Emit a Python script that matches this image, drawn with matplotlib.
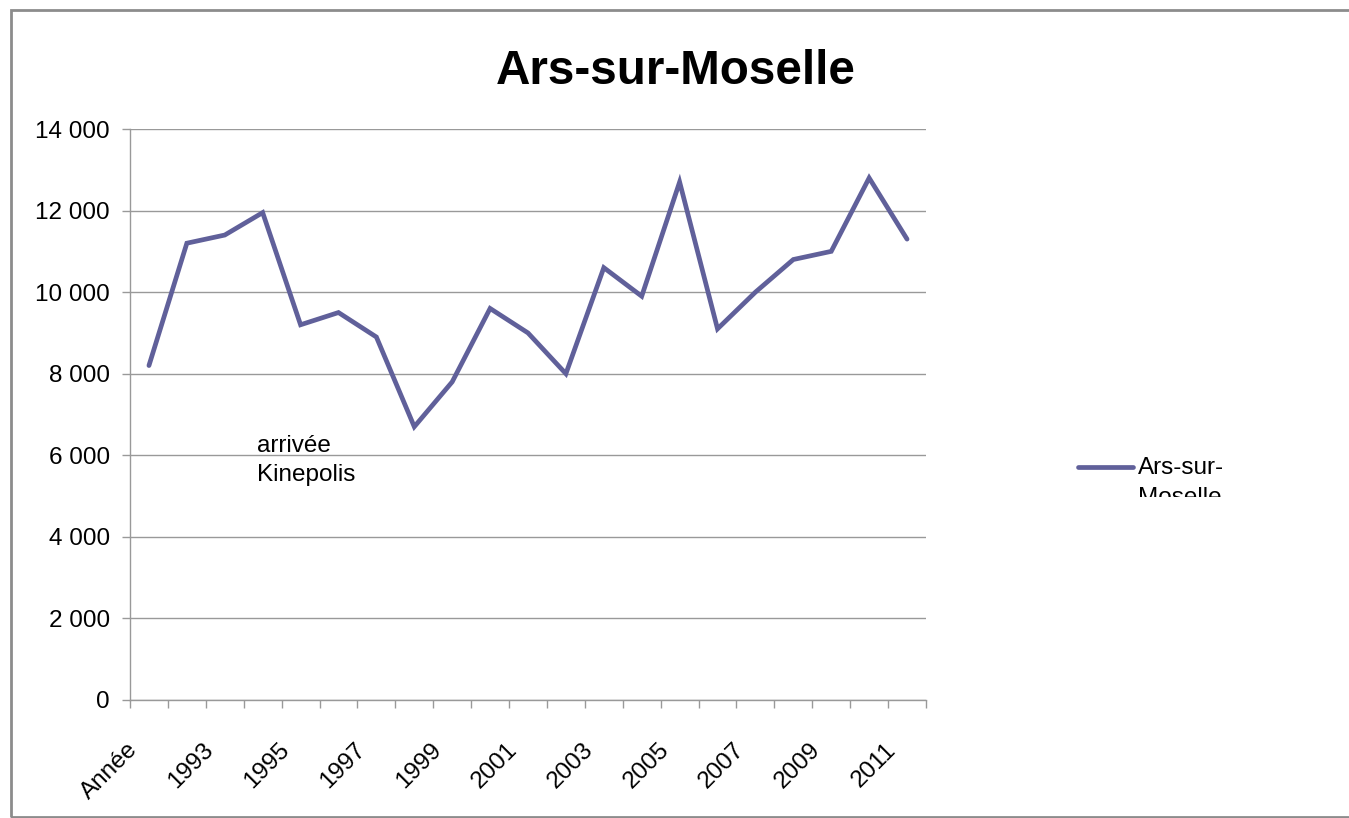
import matplotlib
matplotlib.use("Agg")
import matplotlib.pyplot as plt
import matplotlib.transforms as mtransforms
from matplotlib.patches import Rectangle
from matplotlib.lines import Line2D
from matplotlib.ticker import FuncFormatter, FixedLocator

plt.rcParams['font.family'] = ['Liberation Sans', 'DejaVu Sans']

# Data
categories = ['Année'] + [str(y) for y in range(1992, 2012)]
values = [8200, 11200, 11400, 11950, 9200, 9500, 8900, 6700, 7800, 9600,
          9000, 8000, 10600, 9900, 12700, 9100, 10000, 10800, 11000, 12800, 11300]
series_name = 'Ars-sur-Moselle'
note_lines = ['arrivée', 'Kinepolis']
legend_lines = ['Ars-sur-', 'Moselle']
line_color = '#60609A'
grid_color = '#999999'

W, H = 1349, 818
fs = 17.5
fig = plt.figure(figsize=(W / 100, H / 100), dpi=100)

# outer chart border (right edge runs off the image)
fig.patches.append(Rectangle((11 / W, 1 - 817 / H), 1400 / W, 807 / H,
                             transform=fig.transFigure, fill=False,
                             edgecolor='#8c8c8c', linewidth=2))

# plot area
ax = fig.add_axes([130 / W, 1 - 700 / H, 796 / W, 571 / H])
x = list(range(len(categories)))
ax.plot(x, values, color=line_color, linewidth=3.4, solid_joinstyle='miter',
        solid_capstyle='round', zorder=3)

ax.set_xlim(-0.5, len(categories) - 0.5)
ax.set_ylim(0, 14000)
ax.set_yticks(range(0, 14001, 2000))
ax.yaxis.set_major_formatter(FuncFormatter(lambda v, p: f'{int(v):,}'.replace(',', ' ')))
ax.grid(axis='y', color=grid_color, linewidth=1)
ax.set_axisbelow(True)

# ticks between categories, labels every other category
ax.xaxis.set_major_locator(FixedLocator([i - 0.5 for i in range(len(categories) + 1)]))
ax.xaxis.set_major_formatter(plt.NullFormatter())
ax.xaxis.set_minor_locator(FixedLocator(x[::2]))
ax.set_xticklabels([categories[i] for i in x[::2]], minor=True, rotation=45,
                   ha='right', va='top', rotation_mode='anchor', fontsize=fs)
ax.tick_params(axis='x', which='minor', length=0, pad=28)
ax.tick_params(axis='x', which='major', length=6, color=grid_color, width=1)
ax.tick_params(axis='y', length=5.5, color=grid_color, width=1, labelsize=fs, pad=9)
shift = mtransforms.ScaledTranslation(-22 / 100, 0, fig.dpi_scale_trans)
for lab in ax.get_xticklabels(minor=True):
    lab.set_transform(lab.get_transform() + shift)

for side in ['top', 'right']:
    ax.spines[side].set_visible(False)
for side in ['left', 'bottom']:
    ax.spines[side].set_color(grid_color)
    ax.spines[side].set_linewidth(1)

# annotation, two lines 29 px apart
px = mtransforms.ScaledTranslation(0, -29 / 100, fig.dpi_scale_trans)
for i, line in enumerate(note_lines):
    tr = ax.transData
    for _ in range(i):
        tr = tr + px
    ax.text(2.85, 6230, line, fontsize=fs, va='center', ha='left', transform=tr)

fig.text(676 / W, 1 - 71 / H, series_name, fontsize=34.3, fontweight='bold',
         ha='center', va='center')

# legend: line sample plus wrapped label clipped at the bottom
fig.lines.append(Line2D([1078 / W, 1133 / W], [1 - 467 / H, 1 - 467 / H],
                        transform=fig.transFigure, color=line_color,
                        linewidth=3.4, solid_capstyle='round'))
lax = fig.add_axes([1136 / W, 1 - 497 / H, 150 / W, 60 / H])
lax.set_axis_off()
lax.set_xlim(0, 150)
lax.set_ylim(0, 60)
for i, line in enumerate(legend_lines):
    lax.text(2, 29 - 30 * i, line, fontsize=fs, ha='left', va='center', clip_on=True)

fig.savefig('out.png', dpi=100)
